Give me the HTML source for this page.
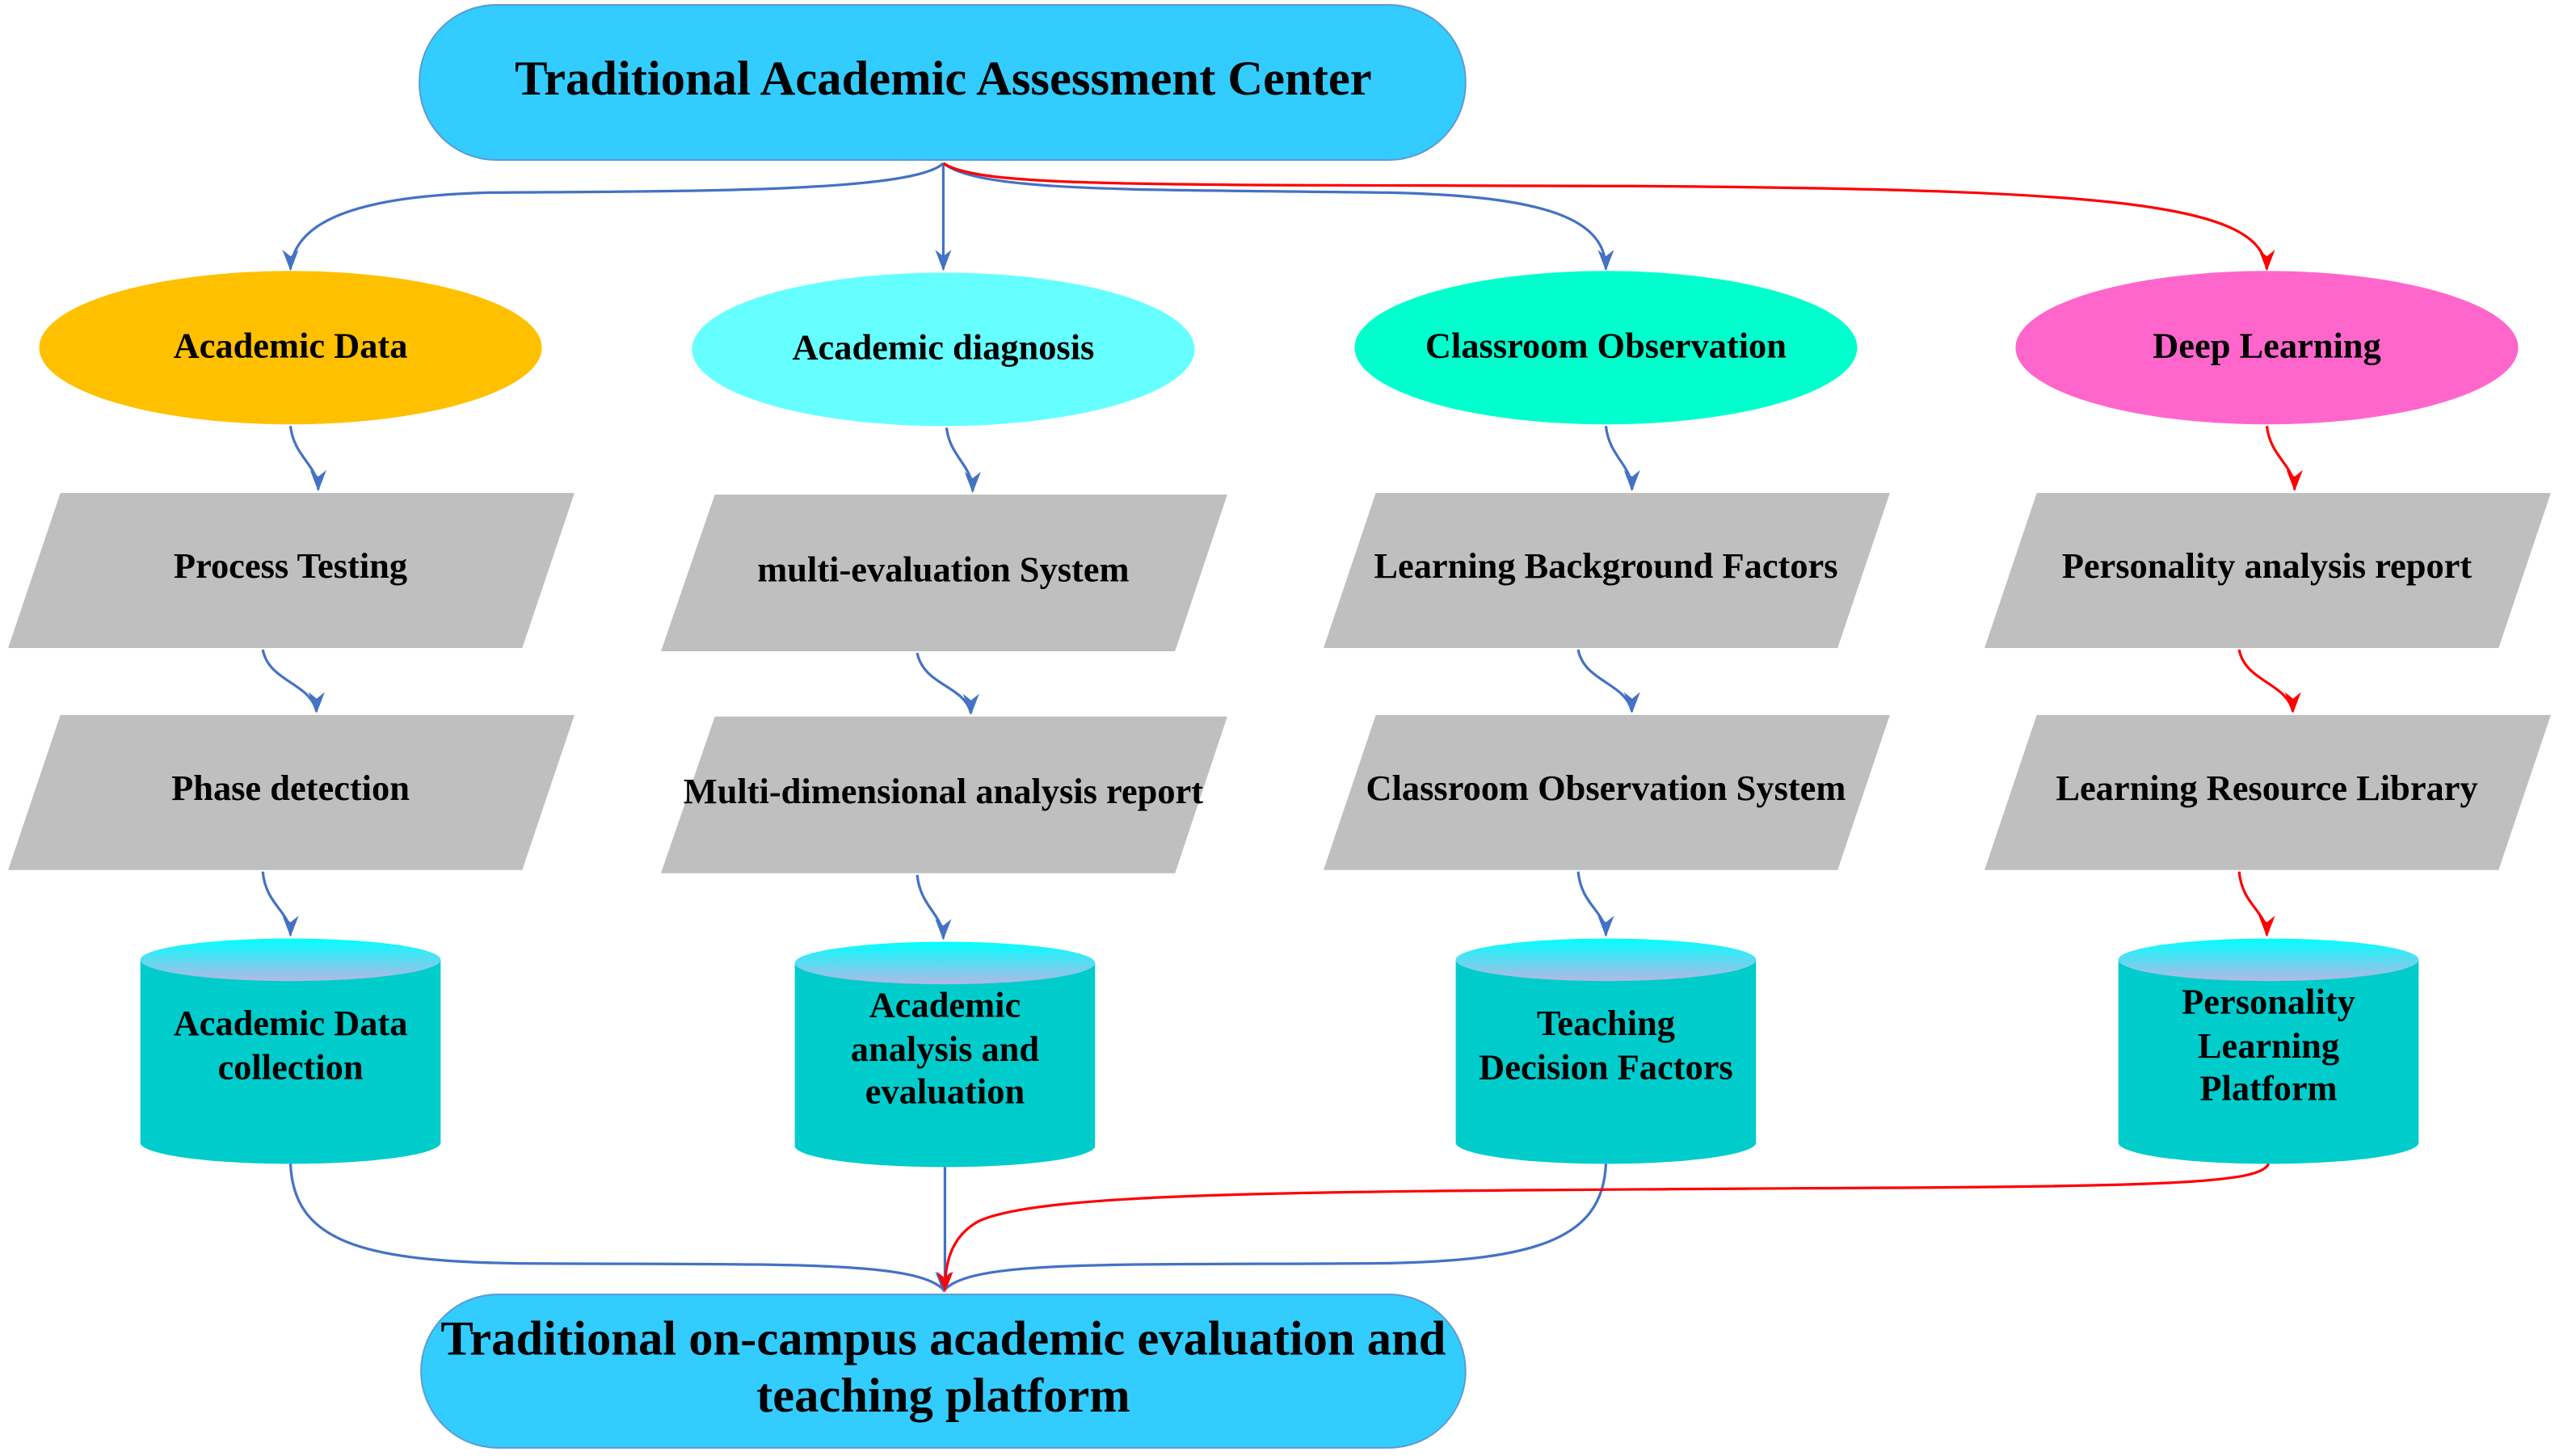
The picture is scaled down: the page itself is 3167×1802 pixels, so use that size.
<!DOCTYPE html>
<html><head><meta charset="utf-8"><style>
html,body{margin:0;padding:0;background:#fff}
svg{display:block}
text{font-family:"Liberation Serif",serif;font-weight:bold;fill:#000;text-anchor:middle;dominant-baseline:middle}
</style></head><body>
<svg width="3167" height="1802" viewBox="0 0 1568 892" preserveAspectRatio="none" xmlns="http://www.w3.org/2000/svg">
<defs>
<linearGradient id="cy" x1="0" y1="0" x2="0" y2="1"><stop offset="0" stop-color="#00ffff"/><stop offset="1" stop-color="#b4b8e4"/></linearGradient>
<marker id="ab" markerWidth="8" markerHeight="12" refX="4" refY="11" orient="auto" markerUnits="userSpaceOnUse" viewBox="0 0 8 12"><path d="M0,0 L4,12 L8,0 L4,4 Z" fill="#4472c4" transform="rotate(-90 4 6)"/></marker>
<marker id="ar" markerWidth="8" markerHeight="12" refX="4" refY="11" orient="auto" markerUnits="userSpaceOnUse" viewBox="0 0 8 12"><path d="M0,0 L4,12 L8,0 L4,4 Z" fill="#ff0000" transform="rotate(-90 4 6)"/></marker>
</defs>
<style>.b{fill:none;stroke:#4472c4;stroke-width:1.6}.r{fill:none;stroke:#ff0000;stroke-width:1.6}</style>

<rect x="257" y="3" width="641" height="95" rx="47" fill="#33ccff" stroke="#5b9bd5" stroke-width="1"/>
<text x="578" y="51" font-size="30">Traditional Academic Assessment Center</text>

<path class="b" d="M578,100 C560,118 420,117 300,118 C220,120 180,135 178,165"/>
<path class="b" d="M578,100 L578,165"/>
<path class="b" d="M578,100 C600,118 700,116 850,118 C950,120 984,135 984,165"/>
<path class="r" d="M578,100 C600,115 700,113 1000,114 C1300,116 1385,125 1389,165"/>

<ellipse cx="178" cy="213" rx="154" ry="47" fill="#ffc000"/>
<text x="178" y="214" font-size="22">Academic Data</text>
<ellipse cx="578" cy="214" rx="154" ry="47" fill="#66ffff"/>
<text x="578" y="215" font-size="22">Academic diagnosis</text>
<ellipse cx="984" cy="213" rx="154" ry="47" fill="#00ffcc"/>
<text x="984" y="214" font-size="22">Classroom Observation</text>
<ellipse cx="1389" cy="213" rx="154" ry="47" fill="#ff66cc"/>
<text x="1389" y="214" font-size="22">Deep Learning</text>

<path class="b" d="M178,261 C180,280 195,285 195,300"/>
<path class="b" d="M580,262 C582,280 596,285 596,301"/>
<path class="b" d="M984,261 C986,280 1000,285 1000,300"/>
<path class="r" d="M1389,261 C1391,280 1406,285 1406,300"/>

<polygon points="37,302 352,302 320,397 5,397" fill="#bfbfbf"/>
<text x="178" y="349" font-size="22">Process Testing</text>
<polygon points="438,303 752,303 720,399 405,399" fill="#bfbfbf"/>
<text x="578" y="351" font-size="22">multi-evaluation System</text>
<polygon points="843,302 1158,302 1126,397 811,397" fill="#bfbfbf"/>
<text x="984" y="349" font-size="22">Learning Background Factors</text>
<polygon points="1248,302 1563,302 1531,397 1216,397" fill="#bfbfbf"/>
<text x="1389" y="349" font-size="22">Personality analysis report</text>

<path class="b" d="M161,398 C165,418 190,418 194,436"/>
<path class="b" d="M562,400 C566,420 591,420 595,437"/>
<path class="b" d="M967,398 C971,418 996,418 1000,436"/>
<path class="r" d="M1372,398 C1376,418 1401,418 1405,436"/>

<polygon points="37,438 352,438 320,533 5,533" fill="#bfbfbf"/>
<text x="178" y="485" font-size="22">Phase detection</text>
<polygon points="438,439 752,439 720,535 405,535" fill="#bfbfbf"/>
<text x="578" y="487" font-size="22">Multi-dimensional analysis report</text>
<polygon points="843,438 1158,438 1126,533 811,533" fill="#bfbfbf"/>
<text x="984" y="485" font-size="22">Classroom Observation System</text>
<polygon points="1248,438 1563,438 1531,533 1216,533" fill="#bfbfbf"/>
<text x="1389" y="485" font-size="22">Learning Resource Library</text>

<path class="b" d="M161,534 C163,555 178,558 178,573"/>
<path class="b" d="M562,536 C564,556 578,560 578,575"/>
<path class="b" d="M967,534 C969,555 984,558 984,573"/>
<path class="r" d="M1372,534 C1374,555 1389,558 1389,573"/>

<!-- arrowheads -->
<g fill="#4472c4">
<path d="M173,153 L178,166 L183,153 L178,157 Z"/>
<path d="M573,153 L578,166 L583,153 L578,157 Z"/>
<path d="M979,153 L984,166 L989,153 L984,157 Z"/>
<path d="M190,288 L195,301 L200,288 L195,292 Z"/>
<path d="M591,289 L596,302 L601,289 L596,293 Z"/>
<path d="M995,288 L1000,301 L1005,288 L1000,292 Z"/>
<path d="M189,424 L194,437 L199,424 L194,428 Z"/>
<path d="M590,425 L595,438 L600,425 L595,429 Z"/>
<path d="M995,424 L1000,437 L1005,424 L1000,428 Z"/>
<path d="M173,561 L178,574 L183,561 L178,565 Z"/>
<path d="M573,563 L578,576 L583,563 L578,567 Z"/>
<path d="M979,561 L984,574 L989,561 L984,565 Z"/>
<path d="M573,779 L578,792 L583,779 L578,783 Z"/>
</g>
<g fill="#ff0000">
<path d="M1384,153 L1389,166 L1394,153 L1389,157 Z"/>
<path d="M1401,288 L1406,301 L1411,288 L1406,292 Z"/>
<path d="M1400,424 L1405,437 L1410,424 L1405,428 Z"/>
<path d="M1384,561 L1389,574 L1394,561 L1389,565 Z"/>
<path d="M574,779 L579,792 L584,779 L579,783 Z"/>
</g>

<g>
<path d="M86,588 L86,700 A92,13 0 0 0 270,700 L270,588 Z" fill="#00cccc"/>
<ellipse cx="178" cy="588" rx="92" ry="13" fill="url(#cy)"/>
<text x="178" y="629" font-size="22">Academic Data</text>
<text x="178" y="656" font-size="22">collection</text>
</g>
<g>
<path d="M487,590 L487,702 A92,13 0 0 0 671,702 L671,590 Z" fill="#00cccc"/>
<ellipse cx="579" cy="590" rx="92" ry="13" fill="url(#cy)"/>
<text x="579" y="618" font-size="22">Academic</text>
<text x="579" y="645" font-size="22">analysis and</text>
<text x="579" y="671" font-size="22">evaluation</text>
</g>
<g>
<path d="M892,588 L892,700 A92,13 0 0 0 1076,700 L1076,588 Z" fill="#00cccc"/>
<ellipse cx="984" cy="588" rx="92" ry="13" fill="url(#cy)"/>
<text x="984" y="629" font-size="22">Teaching</text>
<text x="984" y="656" font-size="22">Decision Factors</text>
</g>
<g>
<path d="M1298,588 L1298,700 A92,13 0 0 0 1482,700 L1482,588 Z" fill="#00cccc"/>
<ellipse cx="1390" cy="588" rx="92" ry="13" fill="url(#cy)"/>
<text x="1390" y="616" font-size="22">Personality</text>
<text x="1390" y="643" font-size="22">Learning</text>
<text x="1390" y="669" font-size="22">Platform</text>
</g>

<path class="b" d="M178,713 C180,760 220,773 320,774 C480,775 560,772 578,790"/>
<path class="b" d="M579,715 L579,790"/>
<path class="b" d="M984,713 C982,760 940,773 840,774 C680,775 596,772 579,790"/>
<path class="r" d="M1390,713 C1385,725 1330,727 1100,728 C800,730 640,730 600,748 C585,756 579,770 579,790"/>

<rect x="258" y="793" width="640" height="94" rx="47" fill="#33ccff" stroke="#5b9bd5" stroke-width="1"/>
<text x="578" y="823" font-size="30">Traditional on-campus academic evaluation and</text>
<text x="578" y="858" font-size="30">teaching platform</text>
</svg>
</body></html>
